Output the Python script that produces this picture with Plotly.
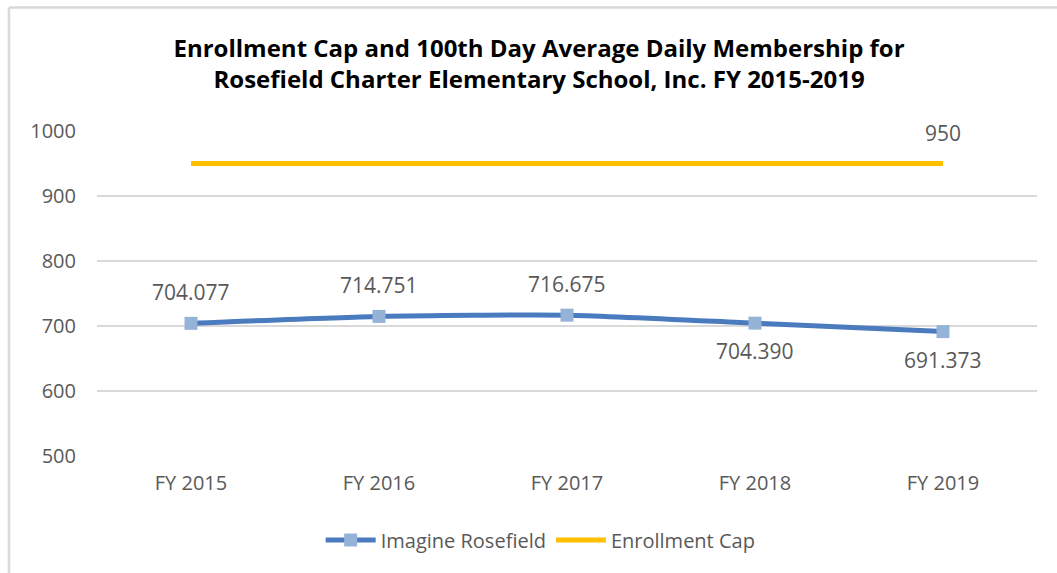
import plotly.graph_objects as go

categories = ["FY 2015", "FY 2016", "FY 2017", "FY 2018", "FY 2019"]
rosefield = [704.077, 714.751, 716.675, 704.390, 691.373]
cap = [950, 950, 950, 950, 950]
rosefield_labels = ["704.077", "714.751", "716.675", "704.390", "691.373"]
label_above = [True, True, True, False, False]
y_ticks = [500, 600, 700, 800, 900, 1000]

W, H = 1057, 573
L, R, T, B = 97, 20, 131, 117
pw, ph = W - L - R, H - T - B

GRAY = "#595959"
FONT = "Open Sans"

fig = go.Figure()
fig.add_trace(go.Scatter(
    x=categories, y=rosefield, name="Imagine Rosefield", mode="lines+markers",
    line=dict(color="#4A7BBF", width=5, shape="spline", smoothing=0.6),
    marker=dict(symbol="square", size=13, color="#95B3D7"),
))
fig.add_trace(go.Scatter(
    x=categories, y=cap, name="Enrollment Cap", mode="lines",
    line=dict(color="#FFC000", width=5),
))

annotations = []
for c, v, t, up in zip(categories, rosefield, rosefield_labels, label_above):
    annotations.append(dict(x=c, y=v, xref="x", yref="y", text=t, showarrow=False,
                            yshift=31 if up else -28,
                            font=dict(family=FONT, size=21, color=GRAY)))
annotations.append(dict(x=categories[-1], y=cap[-1], xref="x", yref="y", text=str(cap[-1]),
                        showarrow=False, yshift=31,
                        font=dict(family=FONT, size=21, color=GRAY)))

def px_x(p):
    return (p - L) / pw

def px_y(p):
    return (H - B - p) / ph

shapes = [
    dict(type="line", xref="paper", yref="paper", x0=px_x(9), x1=px_x(1057), y0=px_y(7.5), y1=px_y(7.5),
         line=dict(color="#D9D9D9", width=2.5)),
    dict(type="line", xref="paper", yref="paper", x0=px_x(9), x1=px_x(9), y0=px_y(7.5), y1=px_y(573),
         line=dict(color="#D9D9D9", width=2.5)),
]

fig.update_layout(
    width=W, height=H,
    margin=dict(l=L, r=R, t=T, b=B),
    paper_bgcolor="white", plot_bgcolor="white",
    title=dict(
        text="Enrollment Cap and 100th Day Average Daily Membership for<br>Rosefield Charter Elementary School, Inc. FY 2015-2019",
        x=0.51, xanchor="center", y=1 - 57 / H, yanchor="middle",
        font=dict(family="Open Sans", size=24, color="black", weight="bold"),
    ),
    xaxis=dict(
        type="category", range=[-0.5, 4.5], showgrid=False, showline=False, zeroline=False,
        ticks="", tickfont=dict(family=FONT, size=20, color=GRAY), ticklabelstandoff=13,
    ),
    yaxis=dict(
        range=[500, 1000], tickvals=y_ticks, showgrid=True, gridcolor="#D9D9D9", gridwidth=1.5,
        zeroline=False, showline=False, ticks="",
        tickfont=dict(family=FONT, size=20, color=GRAY), ticklabelstandoff=20,
    ),
    legend=dict(
        orientation="h", x=0.472, xanchor="center", y=px_y(540), yanchor="middle",
        font=dict(family=FONT, size=20, color=GRAY), itemwidth=50, traceorder="normal",
    ),
    showlegend=True,
    annotations=annotations,
    shapes=shapes,
)

fig.write_html("out.html")
